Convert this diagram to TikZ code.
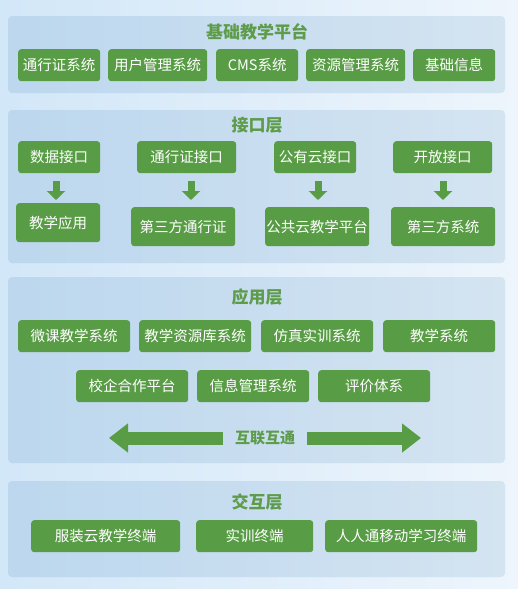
\documentclass[tikz,border=0pt]{standalone}
\usepackage{fontspec}
\setmainfont{Noto Sans CJK SC}
\usetikzlibrary{arrows.meta}
\definecolor{bgL}{HTML}{D2E7F8}
\definecolor{bgR}{HTML}{EEF5FC}
\definecolor{panL}{HTML}{BCD7EE}
\definecolor{panR}{HTML}{D4E4F1}
\definecolor{gbox}{HTML}{589C45}
\definecolor{gtitle}{HTML}{5E9C4B}
\tikzset{
  gb/.style={fill=gbox, rounded corners=3pt, text=white, inner sep=0pt,
    font=\fontsize{14.5}{15}\selectfont, anchor=north west},
  panel/.style={left color=panL, right color=panR, rounded corners=4pt, draw=none},
  ttl/.style={text=gtitle, font=\fontsize{17}{18}\selectfont\bfseries},
  darr/.style={draw=gbox, line width=7pt, -{Triangle[width=18pt,length=9pt]}},
  harr/.style={draw=gbox, line width=13pt, -{Triangle[width=28pt,length=19pt]}}
}
\newcommand{\gbx}[6]{\node[gb, minimum width=#4-#2, minimum height=#5-#3] (#1) at (#2,#3) {#6};}
\begin{document}
\begin{tikzpicture}[x=1pt,y=-1pt]
\useasboundingbox (0,0) rectangle (518,589);
\fill[left color=bgL, right color=bgR] (0,0) rectangle (518,589);
% panels
\path[panel] (8,16) rectangle (505,93);
\path[panel] (8,110) rectangle (505,263);
\path[panel] (8,277) rectangle (505,463);
\path[panel] (8,481) rectangle (505,577);
% layer 1
\node[ttl] (t1) at (257,32) {基础教学平台};
\gbx{a1}{18}{49}{100}{81}{通行证系统}
\gbx{a2}{108}{49}{207}{81}{用户管理系统}
\gbx{a3}{216}{49}{298}{81}{CMS系统}
\gbx{a4}{306}{49}{405}{81}{资源管理系统}
\gbx{a5}{413}{49}{495}{81}{基础信息}
% layer 2
\node[ttl] (t2) at (257,125) {接口层};
\gbx{i1}{18}{141}{100}{173}{数据接口}
\gbx{i2}{137}{141}{236}{173}{通行证接口}
\gbx{i3}{274}{141}{356}{173}{公有云接口}
\gbx{i4}{393}{141}{492}{173}{开放接口}
\gbx{o1}{16}{203}{100}{242}{教学应用}
\gbx{o2}{131}{207}{235}{246}{第三方通行证}
\gbx{o3}{265}{207}{369}{246}{公共云教学平台}
\gbx{o4}{391}{207}{495}{246}{第三方系统}
\coordinate (d1s) at (56,181); \coordinate (d1e) at (56,200);
\coordinate (d2s) at (191,181); \coordinate (d2e) at (191,200);
\coordinate (d3s) at (318,181); \coordinate (d3e) at (318,200);
\coordinate (d4s) at (443,181); \coordinate (d4e) at (443,200);
\draw[darr] (d1s) -- (d1e);
\draw[darr] (d2s) -- (d2e);
\draw[darr] (d3s) -- (d3e);
\draw[darr] (d4s) -- (d4e);
% layer 3
\node[ttl] (t3) at (257,297) {应用层};
\gbx{p1}{18}{320}{130}{352}{微课教学系统}
\gbx{p2}{139}{320}{251}{352}{教学资源库系统}
\gbx{p3}{261}{320}{373}{352}{仿真实训系统}
\gbx{p4}{383}{320}{495}{352}{教学系统}
\gbx{q1}{76}{370}{188}{402}{校企合作平台}
\gbx{q2}{197}{370}{309}{402}{信息管理系统}
\gbx{q3}{318}{370}{430}{402}{评价体系}
\node[text=gtitle, font=\fontsize{15}{16}\selectfont\bfseries] (hl) at (265,438) {互联互通};
\coordinate (hls) at (223,438); \coordinate (hle) at (109,438);
\coordinate (hrs) at (307,438); \coordinate (hre) at (421,438);
\draw[harr] (hls) -- (hle);
\draw[harr] (hrs) -- (hre);
% layer 4
\node[ttl] (t4) at (257,502) {交互层};
\gbx{r1}{31}{520}{180}{552}{服装云教学终端}
\gbx{r2}{196}{520}{313}{552}{实训终端}
\gbx{r3}{325}{520}{477}{552}{人人通移动学习终端}
\end{tikzpicture}
\end{document}
